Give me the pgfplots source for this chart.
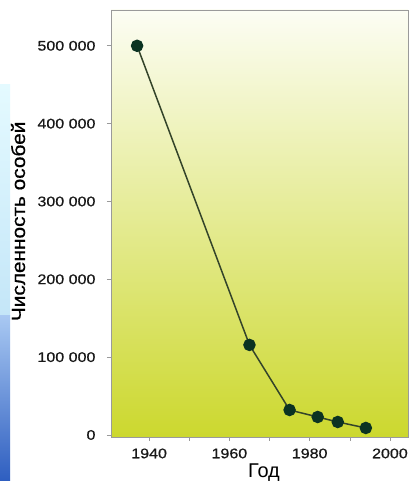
\documentclass[border=0pt]{standalone}
\usepackage{fontspec}
\setmainfont{Liberation Sans}
\newfontfamily\tickfont[FakeStretch=1.15,FakeBold=0.6]{Liberation Sans}
\newfontfamily\labfont[FakeStretch=1.1,FakeBold=0.6]{Liberation Sans}
\usepackage{pgfplots}
\pgfplotsset{compat=1.18}
\definecolor{bgtop}{HTML}{FCFDF4}
\definecolor{bgmid}{HTML}{EEF19C}
\definecolor{bgbot}{HTML}{CCD82E}
\definecolor{mk}{HTML}{0B3322}
\definecolor{ln}{HTML}{34442A}
\definecolor{fr}{HTML}{9A9A9A}
\definecolor{bl1}{HTML}{E4FAFF}
\definecolor{bl2}{HTML}{C4E6F8}
\definecolor{bl3}{HTML}{A8C8F2}
\definecolor{bl4}{HTML}{2E5EC0}
\begin{document}
\begin{tikzpicture}
\useasboundingbox (0bp,0bp) rectangle (413bp,481bp);
\fill[white] (0bp,0bp) rectangle (413bp,481bp);
% blue photo strip at left edge
\shade[top color=bl1, bottom color=bl2] (0bp,165bp) rectangle (10bp,396bp);
\shade[top color=bl3, bottom color=bl4] (0bp,0bp) rectangle (10bp,165bp);
\begin{axis}[
  at={(111bp,44bp)}, anchor=south west,
  scale only axis, width=297bp, height=427bp,
  xmin=1930.5, xmax=2004.5,
  ymin=-2600, ymax=546000,
  scaled y ticks=false, scaled x ticks=false,
  axis background/.style={shade, top color=bgtop, middle color=bgmid, bottom color=bgbot},
  axis line style={fr, line width=0.6pt},
  tick style={fr, line width=0.6pt},
  tick align=outside,
  major tick length=4bp, minor tick length=4bp,
  xtick={1940,1960,1980,2000},
  xticklabels={1940,1960,1980,2000},
  minor xtick={1930,1950,1970,1990},
  ytick={0,100000,200000,300000,400000,500000},
  yticklabels={0,100 000,200 000,300 000,400 000,500 000},
  xtick pos=bottom, ytick pos=left,
  ticklabel style={font=\tickfont\fontsize{14}{14}\selectfont, text=black!90},
  yticklabel style={xshift=-8bp},
  xticklabel style={yshift=-4bp},
  xlabel={Год},
  xlabel style={font=\fontsize{20}{20}\selectfont, at={(axis description cs:0.515,-0.094)}, anchor=base},
  ylabel={Численность особей},
  ylabel style={font=\labfont\fontsize{19}{19}\selectfont, at={(axis description cs:-0.313,0.505)}, anchor=center},
  clip=false,
]
\addplot[ln, line width=1.5pt, mark=*, mark size=5.5bp, mark options={fill=mk, draw=mk}]
  coordinates {(1937,500000) (1965,115700) (1975,32100) (1982,23100) (1987,16700) (1994,9000)};
\end{axis}
\end{tikzpicture}
\end{document}
